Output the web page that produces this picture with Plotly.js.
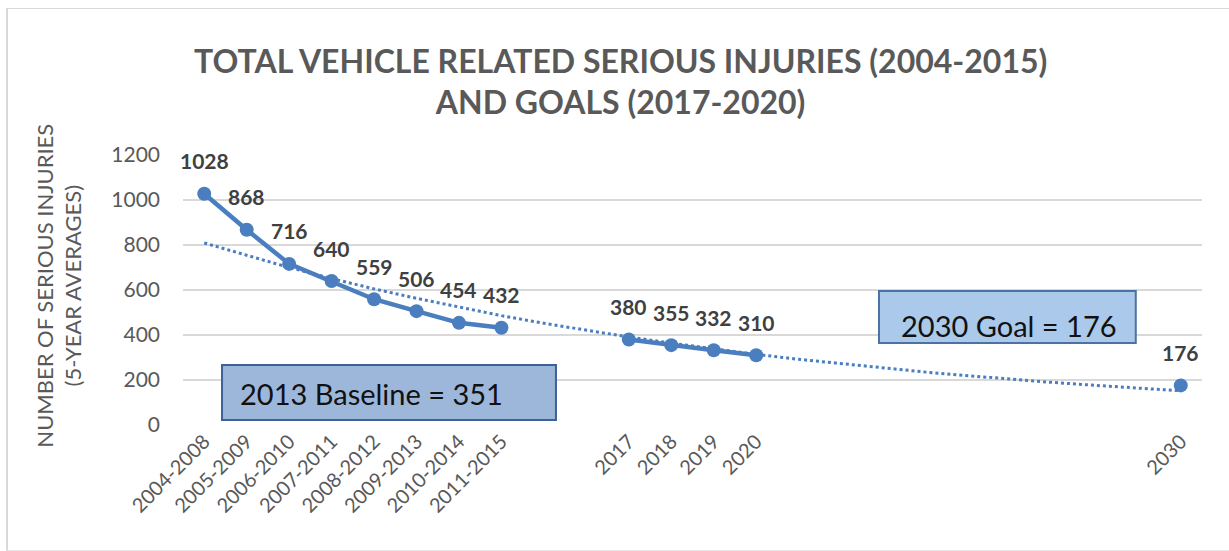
<!DOCTYPE html>
<html>
<head>
<meta charset="utf-8">
<script src="https://cdn.plot.ly/plotly-3.0.1.min.js"></script>
<style>
  html, body { margin: 0; padding: 0; background: #ffffff; }
  #frame { position: absolute; left: 6px; top: 8px; width: 1240px; height: 541px;
           border-left: 2px solid #d9d9d9; border-top: 1px solid #d9d9d9; border-bottom: 1px solid #e6e6e6; }
  #chart { position: absolute; left: 0; top: 0; width: 1229px; height: 551px; }
</style>
</head>
<body>
<div id="frame"></div>
<div id="chart"></div>
<script>
// ---- Data ----
const categories = ['2004-2008', '2005-2009', '2006-2010', '2007-2011', '2008-2012', '2009-2013',
  '2010-2014', '2011-2015', 'gap-1', 'gap-2', '2017', '2018', '2019', '2020',
  'gap-3', 'gap-4', 'gap-5', 'gap-6', 'gap-7', 'gap-8', 'gap-9', 'gap-10', 'gap-11', '2030'];
const injuries = [1028, 868, 716, 640, 559, 506, 454, 432, null, null, 380, 355, 332, 310,
  null, null, null, null, null, null, null, null, null, 176];
// dotted trendline values at each category slot
const trendline = [809, 753, 700, 651, 605, 563, 523, 486, 452, 421, 391, 364, 338, 314,
  292, 272, 253, 235, 219, 203, 189, 176, 163, 152];
const tickLabels = ['2004-2008', '2005-2009', '2006-2010', '2007-2011', '2008-2012', '2009-2013',
  '2010-2014', '2011-2015', '2017', '2018', '2019', '2020', '2030'];
const yTicks = [0, 200, 400, 600, 800, 1000, 1200];
const titleText = 'TOTAL VEHICLE RELATED SERIOUS INJURIES (2004-2015)<br>AND GOALS (2017-2020)';
const yTitleText = 'NUMBER OF SERIOUS INJURIES<br>(5-YEAR AVERAGES)';
const baselineText = '2013 Baseline = 351';
const goalText = '2030 Goal = 176';

const BLUE = '#4a7ebf';
const FONT = 'Lato, Open Sans, sans-serif';

const traces = [
  {
    type: 'scatter', mode: 'lines', x: categories, y: trendline,
    line: { color: BLUE, width: 3, dash: 'dot' }, hoverinfo: 'skip', showlegend: false
  },
  {
    type: 'scatter', mode: 'lines+markers', x: categories, y: injuries,
    connectgaps: false,
    line: { color: BLUE, width: 4.5 },
    marker: { color: BLUE, size: 14 },
    showlegend: false
  }
];

const annotations = [];
categories.forEach((c, i) => {
  if (injuries[i] !== null) {
    annotations.push({
      x: i, y: injuries[i], xref: 'x', yref: 'y', text: String(injuries[i]),
      showarrow: false, yshift: 33,
      font: { family: FONT, size: 21, color: '#404040', weight: 'bold' }
    });
  }
});
annotations.push({
  xref: 'paper', yref: 'paper', x: -0.122, y: 0.515, xanchor: 'center', yanchor: 'middle',
  text: yTitleText, textangle: -90, showarrow: false,
  font: { family: FONT, size: 22, color: '#595959' }
});
annotations.push({
  xref: 'paper', yref: 'paper', x: 0.054, y: 0.115, xanchor: 'left', yanchor: 'middle',
  text: baselineText, showarrow: false,
  font: { family: FONT, size: 29, color: '#111111' }
});
annotations.push({
  xref: 'paper', yref: 'paper', x: 0.811, y: 0.37, xanchor: 'center', yanchor: 'middle',
  text: goalText, showarrow: false,
  font: { family: FONT, size: 29, color: '#111111' }
});

const shapes = [
  { type: 'rect', xref: 'paper', yref: 'paper', x0: 0.0383, x1: 0.366, y0: 0.0185, y1: 0.222,
    fillcolor: '#9db7db', line: { color: '#3c6196', width: 2 }, layer: 'above' },
  { type: 'rect', xref: 'paper', yref: 'paper', x0: 0.683, x1: 0.935, y0: 0.304, y1: 0.496,
    fillcolor: '#abc9ea', line: { color: '#4b72a3', width: 2 }, layer: 'above' }
];

const layout = {
  width: 1229, height: 551,
  paper_bgcolor: 'rgba(0,0,0,0)', plot_bgcolor: 'rgba(0,0,0,0)',
  margin: { l: 183, r: 27, t: 155, b: 126 },
  title: {
    text: titleText, x: 0.505, xanchor: 'center', yref: 'container', y: 0.868, yanchor: 'middle',
    font: { family: FONT, size: 32, color: '#595959', weight: 'bold' }
  },
  xaxis: {
    type: 'category', categoryorder: 'array', categoryarray: categories,
    tickvals: tickLabels, ticktext: tickLabels, tickangle: -45,
    showgrid: false, zeroline: false, showline: false, ticks: '',
    tickfont: { family: FONT, size: 20, color: '#595959' },
    range: [-0.5, categories.length - 0.5]
  },
  yaxis: {
    range: [0, 1200], tickvals: yTicks, showgrid: true, gridcolor: '#d9d9d9', gridwidth: 2,
    zeroline: false, showline: false, ticks: '', ticklabelstandoff: 22,
    tickfont: { family: FONT, size: 21, color: '#595959' }
  },
  annotations: annotations,
  shapes: shapes
};

Plotly.newPlot('chart', traces, layout, { displayModeBar: false, staticPlot: true });
</script>
</body>
</html>
